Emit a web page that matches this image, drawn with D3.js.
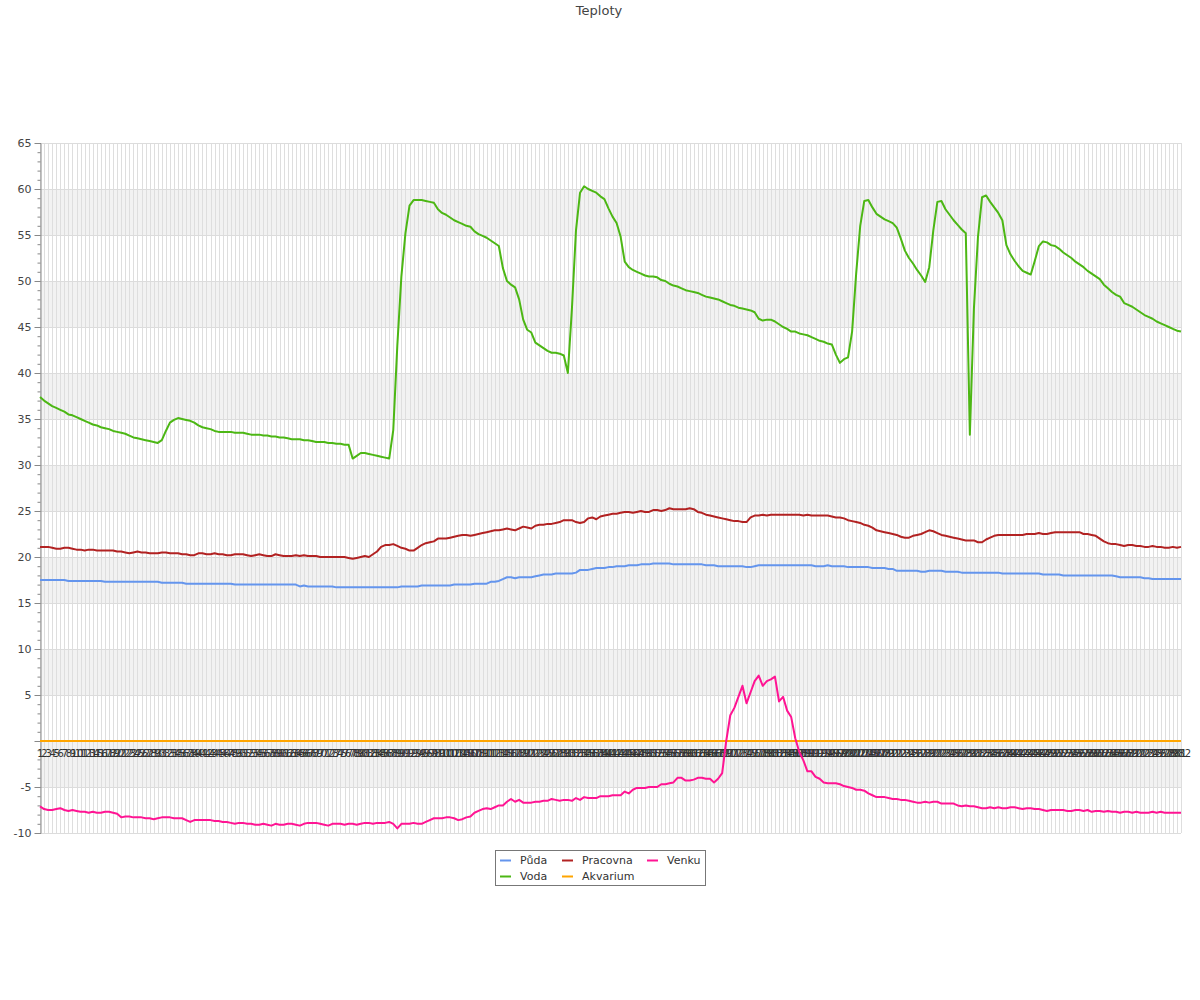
<!DOCTYPE html>
<html><head><meta charset="utf-8">
<script src="https://cdn.jsdelivr.net/npm/d3@7"></script>
<style>body{margin:0;background:#fff;font-family:"DejaVu Sans",sans-serif;}</style>
</head><body><svg id="c" width="1200" height="1000"></svg>
<script>
const title = "Teploty";
const categories = d3.range(1, 283).map(String);
const yTicks = [-10,-5,0,5,10,15,20,25,30,35,40,45,50,55,60,65];
const seriesNames = ["Půda","Voda","Pracovna","Akvarium","Venku"];
const seriesColors = ["#6495ED","#4CB714","#B22222","#FFA500","#FF1493"];

const puda = [
17.5,17.5,17.5,17.5,17.5,17.5,17.5,17.4,17.4,17.4,
17.4,17.4,17.4,17.4,17.4,17.4,17.3,17.3,17.3,17.3,
17.3,17.3,17.3,17.3,17.3,17.3,17.3,17.3,17.3,17.3,
17.2,17.2,17.2,17.2,17.2,17.2,17.1,17.1,17.1,17.1,
17.1,17.1,17.1,17.1,17.1,17.1,17.1,17.1,17.0,17.0,
17.0,17.0,17.0,17.0,17.0,17.0,17.0,17.0,17.0,17.0,
17.0,17.0,17.0,17.0,16.8,16.9,16.8,16.8,16.8,16.8,
16.8,16.8,16.8,16.7,16.7,16.7,16.7,16.7,16.7,16.7,
16.7,16.7,16.7,16.7,16.7,16.7,16.7,16.7,16.7,16.8,
16.8,16.8,16.8,16.8,16.9,16.9,16.9,16.9,16.9,16.9,
16.9,16.9,17.0,17.0,17.0,17.0,17.0,17.1,17.1,17.1,
17.1,17.3,17.3,17.4,17.6,17.8,17.8,17.7,17.8,17.8,
17.8,17.8,17.9,18.0,18.1,18.1,18.1,18.2,18.2,18.2,
18.2,18.2,18.3,18.6,18.6,18.6,18.7,18.8,18.8,18.8,
18.9,18.9,19.0,19.0,19.0,19.1,19.1,19.1,19.2,19.2,
19.2,19.3,19.3,19.3,19.3,19.3,19.2,19.2,19.2,19.2,
19.2,19.2,19.2,19.2,19.1,19.1,19.1,19.0,19.0,19.0,
19.0,19.0,19.0,19.0,18.9,18.9,19.0,19.1,19.1,19.1,
19.1,19.1,19.1,19.1,19.1,19.1,19.1,19.1,19.1,19.1,
19.1,19.0,19.0,19.0,19.1,19.0,19.0,19.0,19.0,18.9,
18.9,18.9,18.9,18.9,18.9,18.8,18.8,18.8,18.8,18.7,
18.7,18.5,18.5,18.5,18.5,18.5,18.5,18.4,18.4,18.5,
18.5,18.5,18.5,18.4,18.4,18.4,18.4,18.3,18.3,18.3,
18.3,18.3,18.3,18.3,18.3,18.3,18.3,18.2,18.2,18.2,
18.2,18.2,18.2,18.2,18.2,18.2,18.2,18.1,18.1,18.1,
18.1,18.1,18.0,18.0,18.0,18.0,18.0,18.0,18.0,18.0,
18.0,18.0,18.0,18.0,18.0,17.9,17.8,17.8,17.8,17.8,
17.8,17.8,17.7,17.7,17.6,17.6,17.6,17.6,17.6,17.6,
17.6,17.6];

const voda = [
37.4,37.0,36.7,36.4,36.2,36.0,35.8,35.5,35.4,35.2,
35.0,34.8,34.6,34.4,34.3,34.1,34.0,33.9,33.7,33.6,
33.5,33.4,33.2,33.0,32.9,32.8,32.7,32.6,32.5,32.4,
32.7,33.7,34.6,34.9,35.1,35.0,34.9,34.8,34.6,34.3,
34.1,34.0,33.9,33.7,33.6,33.6,33.6,33.6,33.5,33.5,
33.5,33.4,33.3,33.3,33.3,33.2,33.2,33.1,33.1,33.0,
33.0,32.9,32.8,32.8,32.8,32.7,32.7,32.6,32.5,32.5,
32.5,32.4,32.4,32.3,32.3,32.2,32.2,30.7,31.0,31.3,
31.3,31.2,31.1,31.0,30.9,30.8,30.7,33.8,43.0,50.5,
55.2,58.2,58.8,58.8,58.8,58.7,58.6,58.5,57.8,57.4,
57.2,56.9,56.6,56.4,56.2,56.0,55.9,55.4,55.1,54.9,
54.7,54.4,54.1,53.8,51.4,50.0,49.6,49.3,48.0,45.8,
44.7,44.4,43.3,43.0,42.7,42.4,42.2,42.2,42.1,41.9,
40.0,47.0,55.5,59.6,60.3,60.0,59.8,59.6,59.2,58.9,
57.9,57.0,56.3,54.8,52.1,51.5,51.2,51.0,50.8,50.6,
50.5,50.5,50.4,50.1,50.0,49.7,49.5,49.4,49.2,49.0,
48.9,48.8,48.7,48.5,48.3,48.2,48.1,48.0,47.8,47.6,
47.4,47.3,47.1,47.0,46.9,46.8,46.6,45.9,45.7,45.8,
45.8,45.6,45.3,45.0,44.8,44.5,44.5,44.3,44.2,44.1,
43.9,43.7,43.5,43.4,43.2,43.1,42.0,41.1,41.5,41.7,
44.5,50.8,56.0,58.7,58.8,58.0,57.3,57.0,56.7,56.5,
56.3,55.8,54.6,53.3,52.5,51.9,51.2,50.6,49.9,51.5,
55.5,58.6,58.7,57.8,57.2,56.6,56.1,55.6,55.2,33.3,
47.0,54.8,59.1,59.3,58.6,58.0,57.4,56.6,53.9,52.9,
52.2,51.6,51.1,50.9,50.7,52.2,53.8,54.3,54.2,53.9,
53.8,53.5,53.1,52.8,52.5,52.1,51.8,51.5,51.1,50.8,
50.5,50.2,49.6,49.2,48.8,48.5,48.3,47.6,47.4,47.2,
46.9,46.6,46.3,46.1,45.9,45.6,45.4,45.2,45.0,44.8,
44.6,44.5];

const pracovna = [
21.1,21.1,21.1,21.0,20.9,20.9,21.0,21.0,20.9,20.8,
20.8,20.7,20.8,20.8,20.7,20.7,20.7,20.7,20.7,20.6,
20.6,20.5,20.4,20.5,20.6,20.5,20.5,20.4,20.4,20.4,
20.5,20.5,20.4,20.4,20.4,20.3,20.3,20.2,20.2,20.4,
20.4,20.3,20.3,20.4,20.3,20.3,20.2,20.2,20.3,20.3,
20.3,20.2,20.1,20.2,20.3,20.2,20.1,20.1,20.3,20.2,
20.1,20.1,20.1,20.2,20.1,20.2,20.1,20.1,20.1,20.0,
20.0,20.0,20.0,20.0,20.0,20.0,19.9,19.8,19.9,20.0,
20.1,20.0,20.3,20.6,21.1,21.3,21.3,21.4,21.2,21.0,
20.9,20.7,20.7,21.0,21.3,21.5,21.6,21.7,22.0,22.0,
22.0,22.1,22.2,22.3,22.4,22.4,22.3,22.4,22.5,22.6,
22.7,22.8,22.9,22.9,23.0,23.1,23.0,22.9,23.1,23.3,
23.2,23.1,23.4,23.5,23.5,23.6,23.6,23.7,23.8,24.0,
24.0,24.0,23.8,23.7,23.8,24.2,24.3,24.1,24.4,24.5,
24.6,24.7,24.7,24.8,24.9,24.9,24.8,24.9,25.0,24.9,
24.9,25.1,25.1,25.0,25.1,25.3,25.2,25.2,25.2,25.2,
25.3,25.2,24.9,24.8,24.6,24.5,24.4,24.3,24.2,24.1,
24.0,23.9,23.9,23.8,23.8,24.3,24.5,24.5,24.6,24.5,
24.6,24.6,24.6,24.6,24.6,24.6,24.6,24.6,24.5,24.6,
24.5,24.5,24.5,24.5,24.5,24.4,24.3,24.3,24.2,24.0,
23.9,23.8,23.7,23.5,23.4,23.2,22.9,22.8,22.7,22.6,
22.5,22.4,22.2,22.1,22.1,22.3,22.4,22.5,22.7,22.9,
22.8,22.6,22.4,22.3,22.2,22.1,22.0,21.9,21.8,21.8,
21.8,21.6,21.6,21.9,22.1,22.3,22.4,22.4,22.4,22.4,
22.4,22.4,22.4,22.5,22.5,22.5,22.6,22.5,22.5,22.6,
22.7,22.7,22.7,22.7,22.7,22.7,22.7,22.5,22.5,22.4,
22.3,22.0,21.7,21.5,21.4,21.4,21.3,21.2,21.3,21.3,
21.2,21.2,21.1,21.1,21.2,21.1,21.1,21.0,21.0,21.1,
21.0,21.1];

const akvarium = [
0,0,0,0,0,0,0,0,0,0, 0,0,0,0,0,0,0,0,0,0, 0,0,0,0,0,0,0,0,0,0,
0,0,0,0,0,0,0,0,0,0, 0,0,0,0,0,0,0,0,0,0, 0,0,0,0,0,0,0,0,0,0,
0,0,0,0,0,0,0,0,0,0, 0,0,0,0,0,0,0,0,0,0, 0,0,0,0,0,0,0,0,0,0,
0,0,0,0,0,0,0,0,0,0, 0,0,0,0,0,0,0,0,0,0, 0,0,0,0,0,0,0,0,0,0,
0,0,0,0,0,0,0,0,0,0, 0,0,0,0,0,0,0,0,0,0, 0,0,0,0,0,0,0,0,0,0,
0,0,0,0,0,0,0,0,0,0, 0,0,0,0,0,0,0,0,0,0, 0,0,0,0,0,0,0,0,0,0,
0,0,0,0,0,0,0,0,0,0, 0,0,0,0,0,0,0,0,0,0, 0,0,0,0,0,0,0,0,0,0,
0,0,0,0,0,0,0,0,0,0, 0,0,0,0,0,0,0,0,0,0, 0,0,0,0,0,0,0,0,0,0,
0,0,0,0,0,0,0,0,0,0, 0,0,0,0,0,0,0,0,0,0, 0,0,0,0,0,0,0,0,0,0,
0,0,0,0,0,0,0,0,0,0, 0,0,0,0,0,0,0,0,0,0, 0,0];

const venku = [
-7.1,-7.4,-7.5,-7.5,-7.4,-7.3,-7.5,-7.6,-7.5,-7.6,
-7.7,-7.7,-7.8,-7.7,-7.8,-7.8,-7.7,-7.7,-7.8,-7.9,
-8.3,-8.2,-8.2,-8.3,-8.3,-8.3,-8.4,-8.4,-8.5,-8.4,
-8.3,-8.3,-8.3,-8.4,-8.4,-8.4,-8.6,-8.8,-8.6,-8.6,
-8.6,-8.6,-8.6,-8.7,-8.7,-8.8,-8.8,-8.9,-9.0,-8.9,
-8.9,-9.0,-9.0,-9.1,-9.1,-9.0,-9.1,-9.2,-9.0,-9.1,
-9.1,-9.0,-9.0,-9.1,-9.2,-9.0,-8.9,-8.9,-8.9,-9.0,
-9.1,-9.2,-9.0,-9.0,-9.0,-9.1,-9.0,-9.0,-9.1,-9.0,
-8.9,-8.9,-9.0,-8.9,-8.9,-8.9,-8.8,-9.0,-9.5,-9.0,
-9.0,-9.0,-8.9,-9.0,-9.0,-8.8,-8.6,-8.4,-8.4,-8.4,
-8.3,-8.3,-8.4,-8.6,-8.5,-8.3,-8.2,-7.8,-7.6,-7.4,
-7.3,-7.4,-7.2,-7.0,-7.0,-6.6,-6.3,-6.6,-6.4,-6.7,
-6.7,-6.7,-6.6,-6.6,-6.5,-6.5,-6.3,-6.4,-6.5,-6.4,
-6.4,-6.5,-6.2,-6.4,-6.1,-6.2,-6.2,-6.2,-6.0,-6.0,
-6.0,-5.9,-5.9,-5.9,-5.5,-5.7,-5.3,-5.1,-5.1,-5.1,
-5.0,-5.0,-5.0,-4.7,-4.7,-4.6,-4.5,-4.0,-4.0,-4.3,
-4.3,-4.2,-4.0,-4.0,-4.1,-4.1,-4.5,-4.1,-3.5,0.0,
2.8,3.6,4.8,6.0,4.1,5.3,6.5,7.1,6.0,6.5,
6.7,7.0,4.3,4.8,3.3,2.6,0.3,-1.2,-2.1,-3.3,
-3.3,-3.9,-4.1,-4.5,-4.6,-4.6,-4.6,-4.7,-4.9,-5.0,
-5.1,-5.3,-5.3,-5.4,-5.7,-5.9,-6.1,-6.1,-6.1,-6.2,
-6.3,-6.3,-6.4,-6.4,-6.5,-6.6,-6.7,-6.7,-6.6,-6.7,
-6.6,-6.6,-6.8,-6.8,-6.8,-6.8,-7.0,-7.1,-7.0,-7.1,
-7.1,-7.2,-7.3,-7.3,-7.2,-7.3,-7.2,-7.3,-7.3,-7.2,
-7.2,-7.3,-7.4,-7.3,-7.3,-7.4,-7.4,-7.5,-7.6,-7.5,
-7.5,-7.5,-7.5,-7.6,-7.6,-7.5,-7.5,-7.6,-7.5,-7.7,
-7.6,-7.6,-7.7,-7.6,-7.7,-7.7,-7.8,-7.7,-7.7,-7.8,
-7.7,-7.8,-7.8,-7.8,-7.7,-7.8,-7.7,-7.8,-7.8,-7.8,
-7.8,-7.8];

const seriesValues = [puda, voda, pracovna, akvarium, venku];

const svg = d3.select("#c");
const plotL = 40, plotR = 1181, plotT = 143, plotB = 833;
const x = d3.scalePoint().domain(categories).range([plotL, plotR]).padding(0);
const y = d3.scaleLinear().domain([-10, 65]).range([plotB, plotT]);

// title
svg.append("text").attr("x", 599).attr("y", 15).attr("text-anchor", "middle")
  .attr("font-size", 13).attr("fill", "#444").text(title);

// alternating bands
const bandStarts = yTicks.filter(v => v < 65 && ((v + 5) / 5) % 2 === 0);
svg.append("g").selectAll("rect").data(bandStarts).join("rect")
  .attr("x", plotL).attr("width", plotR - plotL)
  .attr("y", d => y(d + 5)).attr("height", d => y(d) - y(d + 5))
  .attr("fill", "#f2f2f2");

// vertical grid
svg.append("g").selectAll("line").data(categories).join("line")
  .attr("x1", d => Math.round(x(d)) + 0.5).attr("x2", d => Math.round(x(d)) + 0.5)
  .attr("y1", plotT).attr("y2", plotB)
  .attr("stroke", "#dedede").attr("stroke-width", 1);

// horizontal grid
svg.append("g").selectAll("line").data(yTicks).join("line")
  .attr("x1", plotL).attr("x2", plotR)
  .attr("y1", d => Math.round(y(d)) + 0.5).attr("y2", d => Math.round(y(d)) + 0.5)
  .attr("stroke", "#dcdcdc");

// y axis
const yAxisG = svg.append("g").attr("transform", `translate(${plotL + 0.5},0)`);
yAxisG.call(d3.axisLeft(y).tickValues(d3.range(-10, 66, 1)).tickSize(3).tickFormat(""));
yAxisG.selectAll("path,line").attr("stroke", "#888");
const yMajor = svg.append("g").attr("transform", `translate(${plotL + 0.5},0)`);
yMajor.call(d3.axisLeft(y).tickValues(yTicks).tickSize(6).tickPadding(3)
  .tickFormat(d => d === 0 ? "" : String(d)));
yMajor.select(".domain").remove();
yMajor.selectAll("line").attr("stroke", "#888");
yMajor.selectAll("text").attr("font-size", 11).attr("fill", "#444")
  .attr("font-family", "DejaVu Sans, sans-serif");

// x axis labels at zero (drawn beneath the series lines)
const xAxisG = svg.append("g").attr("transform", `translate(0,${y(0)})`);
xAxisG.call(d3.axisBottom(x).tickSize(0).tickPadding(0));
xAxisG.select(".domain").remove();
xAxisG.selectAll("text").attr("y", 16).attr("dy", 0).attr("font-size", 10)
  .attr("fill", "#333").attr("font-family", "DejaVu Sans, sans-serif");

// series lines
const line = d3.line().x((d, i) => x(categories[i])).y(d => y(d));
seriesValues.forEach((vals, k) => {
  svg.append("path").datum(vals).attr("d", line)
    .attr("fill", "none").attr("stroke", seriesColors[k]).attr("stroke-width", 2)
    .attr("stroke-linejoin", "round");
});

// legend
const lg = svg.append("g");
lg.append("rect").attr("x", 495.5).attr("y", 850.5).attr("width", 210).attr("height", 35)
  .attr("fill", "#fff").attr("stroke", "#777");
const legendPos = [[500, 860], [500, 876], [562, 860], [562, 876], [647, 860]];
seriesNames.forEach((n, k) => {
  const [lx, ly] = legendPos[k];
  lg.append("line").attr("x1", lx).attr("x2", lx + 11).attr("y1", ly + 0.5).attr("y2", ly + 0.5)
    .attr("stroke", seriesColors[k]).attr("stroke-width", 2);
  lg.append("text").attr("x", lx + 20).attr("y", ly + 4).attr("font-size", 11)
    .attr("fill", "#333").text(n);
});
</script></body></html>
